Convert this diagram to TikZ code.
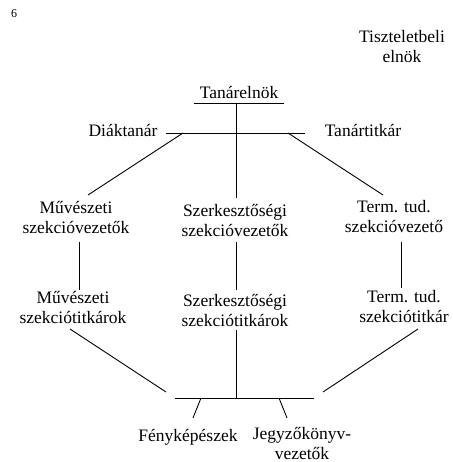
\documentclass[tikz,border=0pt]{standalone}
\usepackage{fontspec}
\setmainfont{Liberation Serif}
\begin{document}
\begin{tikzpicture}[x=1pt,y=-1pt,
  lbl/.style={inner sep=0pt, anchor=base, align=center, font=\fontsize{17.5}{20}\selectfont},
  ln/.style={line width=0.9pt}]
\useasboundingbox (0,0) rectangle (452,462);
% texts (base anchor = baseline of the last line)
\node[lbl, font=\fontsize{12}{14}\selectfont] (six) at (14,18) {6};
\node[lbl] (hon) at (402,63) {Tiszteletbeli\\elnök};
\node[lbl] (pres) at (239,99) {Tanárelnök};
\node[lbl] (dt) at (123,137) {Diáktanár};
\node[lbl] (tt) at (363,137) {Tanártitkár};
\node[lbl] (msv) at (76,233) {Művészeti\\szekcióvezetők};
\node[lbl] (ssv) at (235,236) {Szerkesztőségi\\szekcióvezetők};
\node[lbl] (tsv) at (394,232) {Term. tud.\\szekcióvezető};
\node[lbl] (mst) at (73,323) {Művészeti\\szekciótitkárok};
\node[lbl] (sst) at (235,326) {Szerkesztőségi\\szekciótitkárok};
\node[lbl] (tst) at (404,322) {Term. tud.\\szekciótitkár};
\node[lbl] (fk) at (188,441) {Fényképészek};
\node[lbl] (jk) at (302,459) {Jegyzőkönyv-\\vezetők};
% junction coordinates
\coordinate (ulL) at (194,103);
\coordinate (ulR) at (284,103);
\coordinate (ulM) at (236,103);
\coordinate (tbL) at (166,133);
\coordinate (tbR) at (305,133);
\coordinate (tbDL) at (183,133);
\coordinate (tbDR) at (288,133);
\coordinate (msvT) at (88,195);
\coordinate (tsvT) at (383,195);
\coordinate (ssvT) at (236,198);
\coordinate (msvB) at (79,242);
\coordinate (mstT) at (79,290);
\coordinate (ssvB) at (236,242);
\coordinate (sstT) at (236,290);
\coordinate (tsvB) at (401,242);
\coordinate (tstT) at (401,288);
\coordinate (mstB) at (70,329);
\coordinate (sstB) at (236,330);
\coordinate (tstB) at (418,329);
\coordinate (bbL) at (175,398);
\coordinate (bbR) at (314,398);
\coordinate (bbM) at (236,398);
\coordinate (bbDL) at (166,392);
\coordinate (bbDR) at (323,392);
\coordinate (fkS) at (201,398);
\coordinate (fkT) at (193,418);
\coordinate (jkS) at (279,398);
\coordinate (jkT) at (287,418);
% connectors
\draw[ln] (ulL) -- (ulR);
\draw[ln] (ulM) -- (ssvT);
\draw[ln] (tbL) -- (tbR);
\draw[ln] (tbDL) -- (msvT);
\draw[ln] (tbDR) -- (tsvT);
\draw[ln] (msvB) -- (mstT);
\draw[ln] (ssvB) -- (sstT);
\draw[ln] (tsvB) -- (tstT);
\draw[ln] (mstB) -- (bbDL);
\draw[ln] (tstB) -- (bbDR);
\draw[ln] (sstB) -- (bbM);
\draw[ln] (bbL) -- (bbR);
\draw[ln] (fkS) -- (fkT);
\draw[ln] (jkS) -- (jkT);
\end{tikzpicture}
\end{document}
